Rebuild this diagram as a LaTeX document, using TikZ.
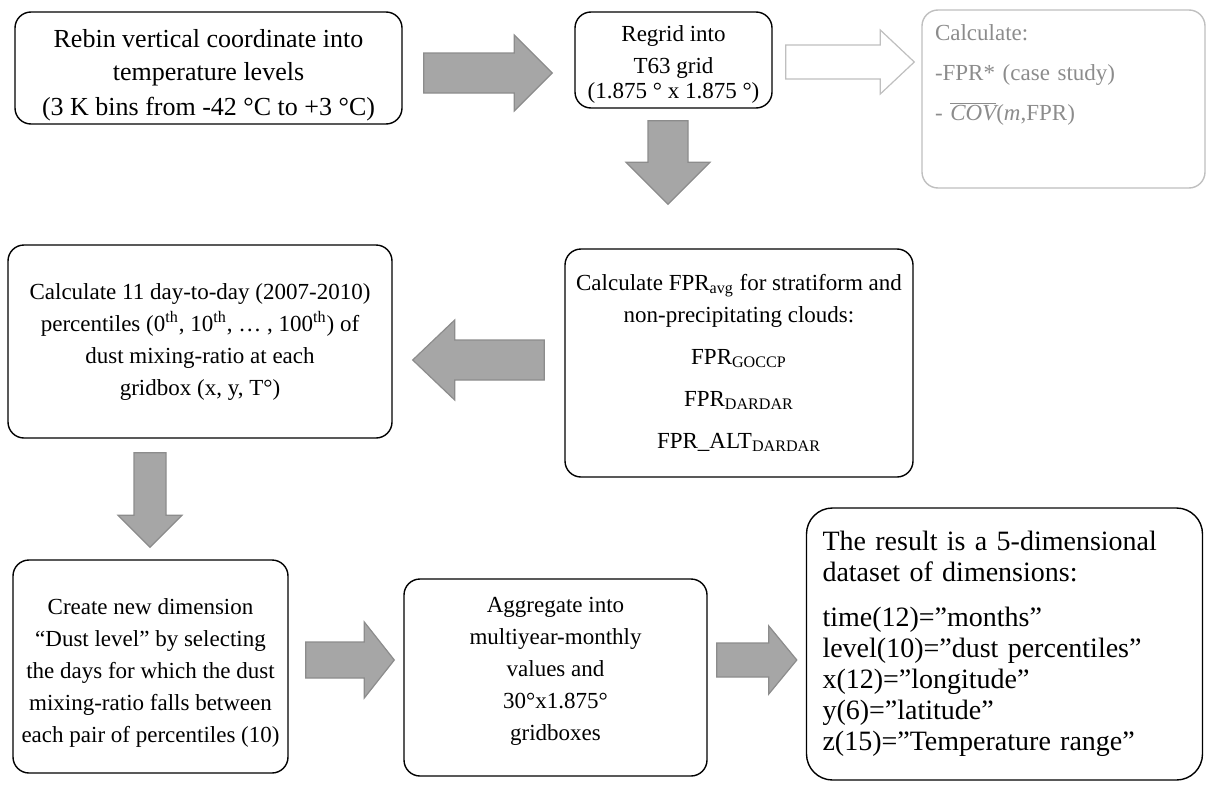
\documentclass[tikz,border=0pt]{standalone}
\usepackage{fontspec}
\setmainfont{Liberation Serif}
\usetikzlibrary{calc}
\definecolor{arrowgray}{HTML}{A6A6A6}
\definecolor{arrowedge}{HTML}{8C8C8C}
\definecolor{lightline}{HTML}{BFBFBF}
\definecolor{greytext}{HTML}{8C8C8C}
\begin{document}
\begin{tikzpicture}[x=0.5pt,y=-0.5pt,box/.style={draw,line width=0.7pt,rounded corners=8pt,align=center,inner sep=4pt,font=\fontsize{11.5}{16}\selectfont},fat/.style n args={3}{fill=arrowgray,draw=arrowedge,line width=0.6pt,to path={-- ($(\tikztostart)!#1!90:(\tikztotarget)$) -- ($($(\tikztotarget)!#3!(\tikztostart)$)!#1!-90:(\tikztostart)$) -- ($($(\tikztotarget)!#3!(\tikztostart)$)!#2!-90:(\tikztostart)$) -- (\tikztotarget) -- ($($(\tikztotarget)!#3!(\tikztostart)$)!#2!90:(\tikztostart)$) -- ($($(\tikztotarget)!#3!(\tikztostart)$)!#1!90:(\tikztostart)$) -- ($(\tikztostart)!#1!-90:(\tikztotarget)$) -- cycle}},hollow/.style={fill=white,draw=lightline}]
\useasboundingbox (0,0) rectangle (1216,787);
\node[box,font=\fontsize{13}{16.5}\selectfont,inner ysep=0pt,text height=50pt,minimum width=193.5pt,minimum height=56pt] (rebin) at (208.5,68) {Rebin vertical coordinate into\\temperature levels\\[1pt](3 K bins from -42 °C to +3 °C)};
\node[box,inner ysep=1pt,text height=41.3pt,minimum width=98.5pt,minimum height=48pt] (regrid) at (673.5,60) {Regrid into\\T63 grid\\[-3.5pt](1.875 ° x 1.875 °)};
\node[box,draw=lightline,text=greytext,align=left,inner xsep=6.5pt,text width=128.5pt,minimum height=89pt,text depth=66pt] (outcome) at (1063.5,99) {Calculate:\\[4pt]-FPR* (case study)\\[4pt]- $\overline{\textit{COV}}$(\textit{m},FPR)};
\node[box,minimum width=174pt,minimum height=114pt] (fpr) at (739,363) {Calculate FPR\textsubscript{avg} for stratiform and\\non-precipitating clouds:\\[5pt]FPR\textsubscript{GOCCP}\\[5pt]FPR\textsubscript{DARDAR}\\[5pt]FPR\_ALT\textsubscript{DARDAR}};
\node[box,minimum width=192pt,minimum height=96.5pt] (pctl) at (200,341.5) {Calculate 11 day-to-day (2007-2010)\\percentiles (0\textsuperscript{th}, 10\textsuperscript{th}, … , 100\textsuperscript{th}) of\\dust mixing-ratio at each\\gridbox (x, y, T°)};
\node[box,text height=78.8pt,minimum width=137.5pt,minimum height=106.5pt] (dustlvl) at (150.5,666.5) {Create new dimension\\“Dust level” by selecting\\the days for which the dust\\mixing-ratio falls between\\each pair of percentiles (10)};
\node[box,text depth=8.5pt,minimum width=151.5pt,minimum height=98.5pt] (aggr) at (555.5,677.5) {Aggregate into\\multiyear-monthly\\values and\\30°x1.875°\\gridboxes};
\node[box,font=\fontsize{14}{15.5}\selectfont,rounded corners=13pt,align=left,inner xsep=8pt,text width=182pt,minimum height=136pt] (result) at (1004.5,644) {The result is a 5-dimensional\\dataset of dimensions:\\[7pt]time(12)=”months”\\level(10)=”dust percentiles”\\x(12)=”longitude”\\y(6)=”latitude”\\z(15)=”Temperature range”};
% block arrows between the steps
\draw[fat={10pt}{19pt}{19pt}] ([shift={(21,5)}]rebin.east) to ([shift={(-22,13)}]regrid.west);
\draw[fat={8.5pt}{16pt}{17pt},hollow] ([shift={(13,2)}]regrid.east) to ([shift={(-7,-37)}]outcome.west);
\draw[fat={10pt}{21pt}{21pt}] ([shift={(-5.5,12)}]regrid.south) to ([shift={(-71,-44)}]fpr.north);
\draw[fat={10pt}{20pt}{21pt}] ([shift={(-20,-3)}]fpr.west) to ([shift={(20,18.5)}]pctl.east);
\draw[fat={8pt}{16pt}{16pt}] ([shift={(-50,14)}]pctl.south) to ([shift={(-0.5,-12)}]dustlvl.north);
\draw[fat={9pt}{19pt}{15pt}] ([shift={(17,-6.5)}]dustlvl.east) to ([shift={(-9,-17.5)}]aggr.west);
\draw[fat={8.5pt}{17pt}{14pt}] ([shift={(9,-17.5)}]aggr.east) to ([shift={(-9,16)}]result.west);
\end{tikzpicture}
\end{document}
